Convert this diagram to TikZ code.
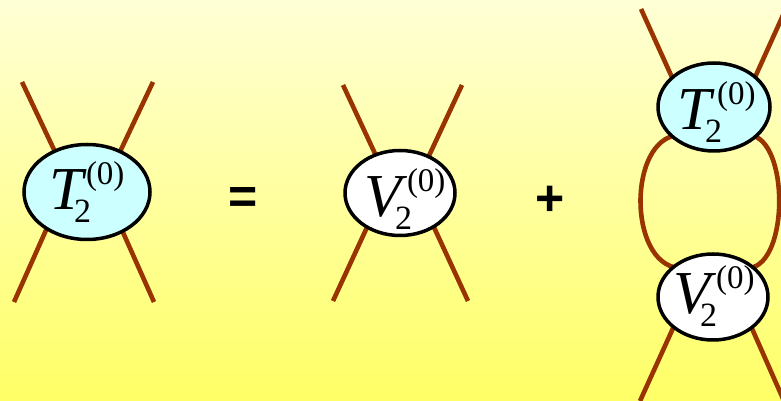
\documentclass[tikz,border=0pt]{standalone}
\usepackage{fontspec}
\setmainfont{Liberation Serif}
\newfontfamily\opfont{Liberation Sans}
\usetikzlibrary{shapes.geometric}
\pgfdeclarelayer{bgfill}
\pgfdeclarelayer{legs}
\pgfsetlayers{bgfill,legs,main}
\definecolor{legcol}{HTML}{993300}
\definecolor{tfill}{HTML}{CCFFFF}
\definecolor{bgtop}{HTML}{FFFFD6}
\definecolor{bgbot}{HTML}{FFFF66}
% letter, sub x, sup x after sub, 2*baseline offset, left shift
\newcommand{\elab}[5]{\raisebox{0pt}[#4][0pt]{\makebox[0pt][l]{\hspace*{#5}\rlap{\fontsize{61}{61}\selectfont\itshape #1}\hspace*{#2}\rlap{\raisebox{-13pt}{\fontsize{34}{34}\selectfont 2}}\hspace*{#3}\raisebox{25pt}{\fontsize{33}{33}\selectfont (0)}}}}
\tikzset{
  x=1pt, y=1pt,
  blob/.style={ellipse, draw=black, line width=3.5pt, inner sep=0pt},
  tblob/.style={blob, fill=tfill},
  vblob/.style={blob, fill=white},
  legline/.style={draw=legcol, line width=4.6pt},
  optext/.style={inner sep=0pt, font=\opfont\bfseries\fontsize{50}{50}\selectfont}
}
\begin{document}
\begin{tikzpicture}
\useasboundingbox (0,0) rectangle (781,401);
\begin{pgfonlayer}{bgfill}
\shade[top color=bgtop, bottom color=bgbot] (0,0) rectangle (781,401);
\end{pgfonlayer}

% left T
\node[tblob, minimum width=126pt, minimum height=95pt] (T1) at (87,209) {\elab{T}{25pt}{12pt}{36pt}{-38pt}};
% middle V
\node[vblob, minimum width=110pt, minimum height=85pt] (V1) at (400,208) {\elab{V}{31pt}{12pt}{48pt}{-36pt}};
% right T and V
\node[tblob, minimum width=112pt, minimum height=88pt] (T2) at (714,294) {\elab{T}{28pt}{12pt}{46pt}{-37pt}};
\node[vblob, minimum width=110pt, minimum height=86pt] (V2) at (713,104) {\elab{V}{27pt}{16pt}{34pt}{-40pt}};

\node[optext] (eq) at (243,200) {=};
\node[optext] (pl) at (550,200) {+};

% free ends
\coordinate (a1) at (22,319);  \coordinate (a2) at (153,319);
\coordinate (a3) at (14,99);   \coordinate (a4) at (154,99);
\coordinate (b1) at (343,316); \coordinate (b2) at (462,316);
\coordinate (b3) at (333,100); \coordinate (b4) at (468,100);
\coordinate (c1) at (641,392); \coordinate (c2) at (784,388);
\coordinate (c3) at (640,0);   \coordinate (c4) at (784,0);

\begin{pgfonlayer}{legs}
\draw[legline] (a1) -- ([shift={(-21,17)}]T1.center);
\draw[legline] (a2) -- ([shift={(22,17)}]T1.center);
\draw[legline] (a3) -- ([shift={(-32,-18)}]T1.center);
\draw[legline] (a4) -- ([shift={(26,-18)}]T1.center);

\draw[legline] (b1) -- ([shift={(-15,18)}]V1.center);
\draw[legline] (b2) -- ([shift={(20,18)}]V1.center);
\draw[legline] (b3) -- ([shift={(-25,-17)}]V1.center);
\draw[legline] (b4) -- ([shift={(26,-17)}]V1.center);

\draw[legline] (c1) -- ([shift={(-34,12)}]T2.center);
\draw[legline] (c2) -- ([shift={(33,12)}]T2.center);
\draw[legline] (c3) -- ([shift={(-34,-18)}]V2.center);
\draw[legline] (c4) -- ([shift={(33,-18)}]V2.center);

\draw[legline] ([shift={(-36,-28)}]T2.center) .. controls (628,261) and (628,139) .. ([shift={(-35,29)}]V2.center);
\draw[legline] ([shift={(36,-28)}]T2.center) .. controls (789,261) and (789,139) .. ([shift={(37,29)}]V2.center);
\end{pgfonlayer}
\end{tikzpicture}
\end{document}
